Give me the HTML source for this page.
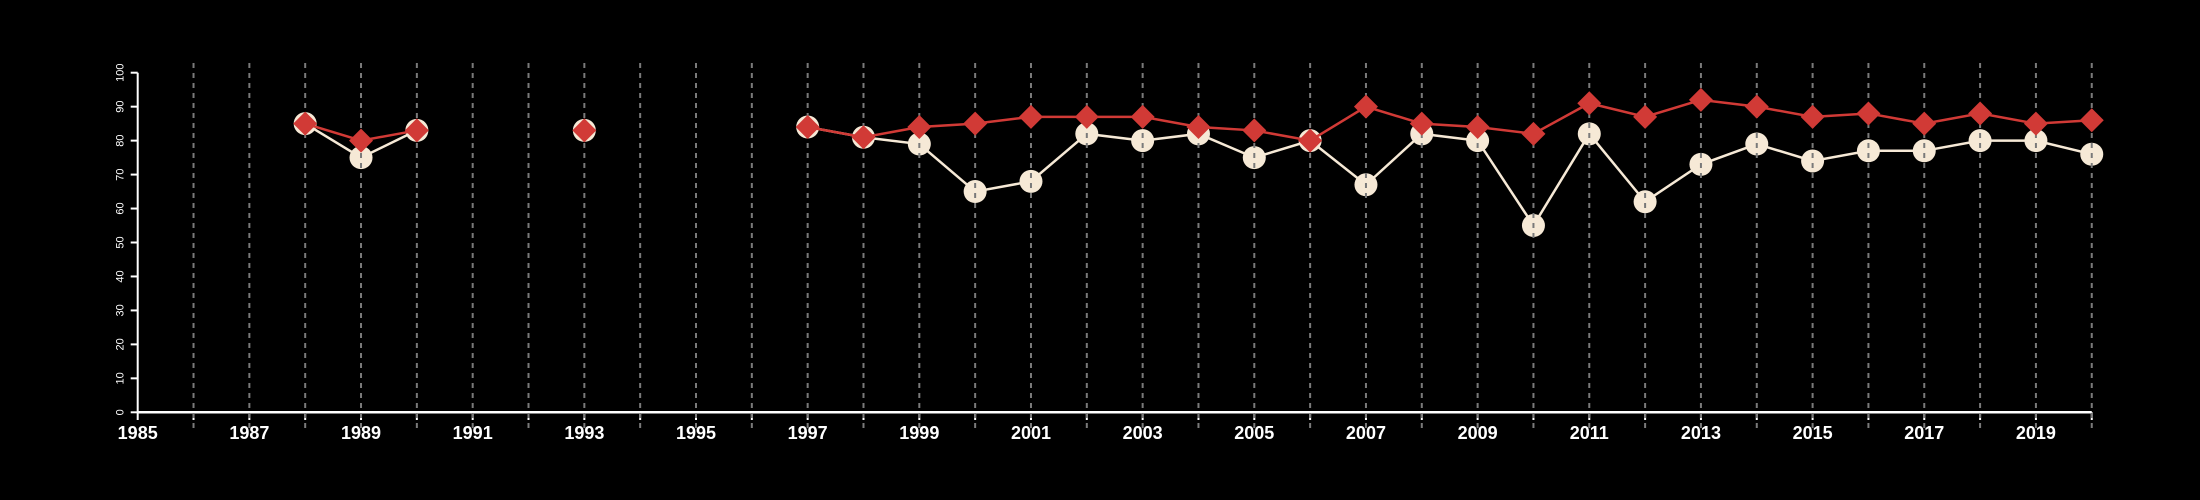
<!DOCTYPE html>
<html><head><meta charset="utf-8"><style>html,body{margin:0;padding:0;background:#000;}svg{display:block;}</style></head>
<body>
<svg id="chart" width="2200" height="500" xmlns="http://www.w3.org/2000/svg">
<rect width="2200" height="500" fill="#000"/>
<g id="grid"></g>
<g id="axes"></g>
<g id="series"></g>
</svg>
<script>
const years = [1988,1989,1990,1993,1997,1998,1999,2000,2001,2002,2003,2004,2005,2006,2007,2008,2009,2010,2011,2012,2013,2014,2015,2016,2017,2018,2019,2020];
const whiteValues = [85,75,83,83,84,81,79,65,68,82,80,82,75,80,67,82,80,55,82,62,73,79,74,77,77,80,80,76];
const redValues = [85,80,83,83,84,81,84,85,87,87,87,84,83,80,90,85,84,82,91,87,92,90,87,88,85,88,85,86];
const yTicks = [0,10,20,30,40,50,60,70,80,90,100];
const xLabelYears = [1985,1987,1989,1991,1993,1995,1997,1999,2001,2003,2005,2007,2009,2011,2013,2015,2017,2019];

const NS = "http://www.w3.org/2000/svg";
const X0 = 137.7, XS = 55.83, Y0 = 412.3, YS = 3.396;
const xs = v => X0 + (v - 1985) * XS;
const ys = v => Y0 - v * YS;
function mk(tag, attrs, parent) {
  const e = document.createElementNS(NS, tag);
  for (const k in attrs) e.setAttribute(k, attrs[k]);
  parent.appendChild(e);
  return e;
}
const grid = document.getElementById('grid');
const axes = document.getElementById('axes');
const series = document.getElementById('series');

let a = mk('line', {x1: xs(1985), x2: xs(2020), y1: Y0, y2: Y0, stroke: '#fff', 'stroke-width': 2.5}, axes);


a = mk('line', {x1: X0, x2: X0, y1: ys(0), y2: ys(100), stroke: '#fff', 'stroke-width': 2}, axes);


for (let yr = 1985; yr <= 2020; yr++) {
  const t = mk('line', {x1: xs(yr), x2: xs(yr), y1: Y0, y2: 420, stroke: '#fff', 'stroke-width': 2}, axes);
  
  
}
xLabelYears.forEach(yr => {
  const t = mk('text', {x: xs(yr), y: 439, 'text-anchor': 'middle', fill: '#fff', 'font-family': 'Liberation Sans, sans-serif', 'font-weight': 'bold', 'font-size': 18}, axes);
  t.textContent = yr;
  
  
});
yTicks.forEach(v => {
  const t = mk('line', {x1: X0 - 7, x2: X0, y1: ys(v), y2: ys(v), stroke: '#fff', 'stroke-width': 2}, axes);
  
  
  const l = mk('text', {x: 0, y: 0, transform: `translate(${X0 - 14},${ys(v)}) rotate(-90)`, 'text-anchor': 'middle', fill: '#fff', 'font-family': 'Liberation Sans, sans-serif', 'font-size': 11}, axes);
  l.textContent = v;
  
  
});

function segments(vals) {
  const segs = []; let cur = [];
  years.forEach((y, i) => {
    if (i > 0 && y - years[i - 1] > 1) { segs.push(cur); cur = []; }
    cur.push([xs(y), ys(vals[i])]);
  });
  segs.push(cur);
  return segs;
}
segments(whiteValues).forEach(s => {
  if (s.length < 2) return;
  const p = mk('polyline', {points: s.map(q => q.join(',')).join(' '), fill: 'none', stroke: '#f6e9d6', 'stroke-width': 2.5}, series);
  
  
});
years.forEach((y, i) => {
  const c = mk('circle', {cx: xs(y), cy: ys(whiteValues[i]), r: 11.5, fill: '#f6e9d6'}, series);
  
  
});
for (let yr = 1986; yr <= 2020; yr++) {
  const g = mk('line', {x1: xs(yr), x2: xs(yr), y1: 63, y2: 428, stroke: '#7a7a7a', 'stroke-width': 2, 'stroke-dasharray': '5,5'}, series);
  
  
}
segments(redValues).forEach(s => {
  if (s.length < 2) return;
  const p = mk('polyline', {points: s.map(q => q.join(',')).join(' '), fill: 'none', stroke: '#d13a36', 'stroke-width': 2.5}, series);
  
  
});
years.forEach((y, i) => {
  const cx = xs(y), cy = ys(redValues[i]), d = 12;
  const p = mk('polygon', {points: `${cx},${cy - d} ${cx + d},${cy} ${cx},${cy + d} ${cx - d},${cy}`, fill: '#d13a36'}, series);
  
  
});
</script>
</body></html>
